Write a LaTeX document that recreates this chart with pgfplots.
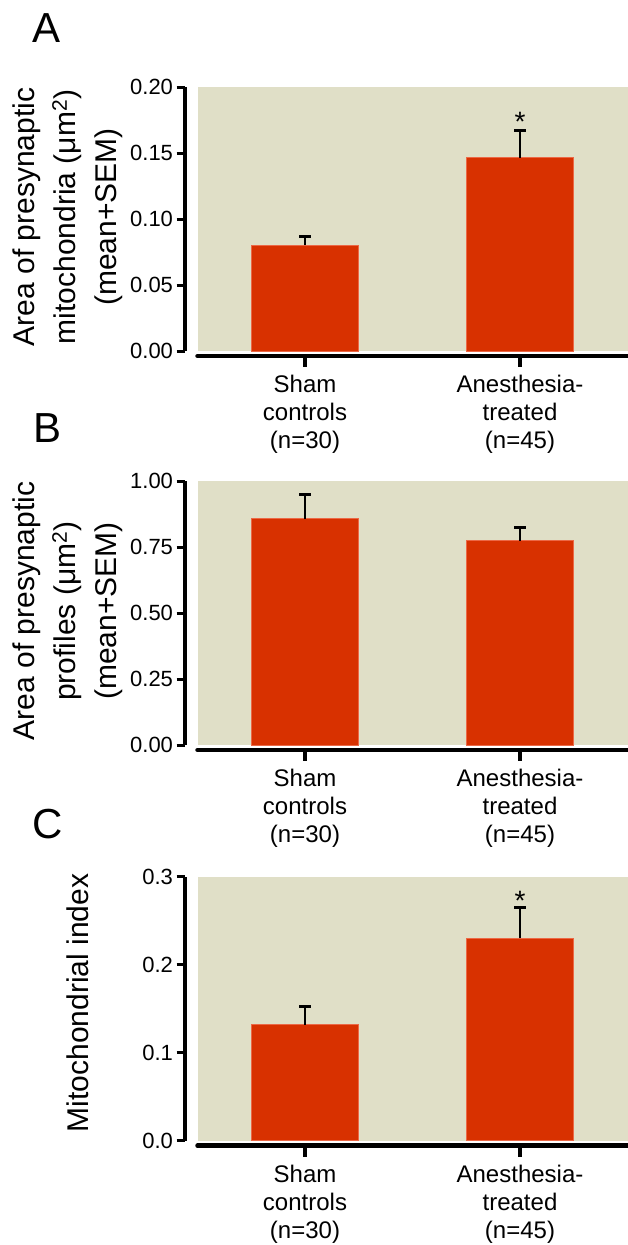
\documentclass[border=0pt]{standalone}
\usepackage{fontspec}
\setmainfont{Liberation Sans}
\usepackage{pgfplots}
\pgfplotsset{compat=1.18}
\definecolor{bgc}{RGB}{224,223,199}
\definecolor{barc}{RGB}{216,49,0}
\definecolor{bare}{RGB}{236,104,70}
\pgfplotsset{panel/.style={
  width=430bp, height=264bp, scale only axis,
  xmin=-0.5, xmax=1.5, ymin=0,
  axis background/.style={fill=bgc},
  axis x line*=bottom, axis y line*=left,
  axis x line shift=5bp, axis y line shift=13bp,
  x axis line style={-, line width=4.5bp, line cap=round},
  y axis line style={-, line width=4bp},
  tick align=outside, major tick length=8bp,
  tick style={line width=3bp, black},
  x tick style={draw=none},
  xtick={0,1},
  xticklabels={{Sham\\controls\\(n=30)},{Anesthesia-\\treated\\(n=45)}},
  xticklabel style={align=center, yshift=-8bp, font=\fontsize{24bp}{28bp}\selectfont},
  yticklabel style={font=\fontsize{22bp}{26bp}\selectfont},
  /pgf/number format/assume math mode=true,
  ybar, bar width=107bp,
  clip=false,
}}
\pgfplotsset{errs/.style={fill=barc, draw=bare, line width=0.8bp,
  error bars/.cd, y dir=plus, y explicit, error mark=-,
  error bar style={line width=2.6bp, black, solid},
  error mark options={rotate=90, line width=3bp, mark size=6bp, black}}}
\begin{document}
\begin{tikzpicture}
\path[use as bounding box] (0,0) rectangle (628bp,-1245bp);
% Panel A
\begin{axis}[panel, at={(197.5bp,-351bp)}, anchor=south west,
  ymax=0.2, ytick={0,0.05,0.1,0.15,0.2},
  yticklabel style={/pgf/number format/.cd, fixed, fixed zerofill, precision=2}]
\addplot[errs] coordinates {(0,0.0801) +- (0,0.0068) (1,0.1465) +- (0,0.0205)};
\draw[line width=3.2bp] ([yshift=-5bp]axis cs:0,0) -- ([yshift=-16bp]axis cs:0,0);
\draw[line width=3.2bp] ([yshift=-5bp]axis cs:1,0) -- ([yshift=-16bp]axis cs:1,0);
\node[anchor=base, font=\fontsize{28bp}{28bp}\selectfont] at (axis cs:1,0.166) {*};
\end{axis}
% Panel B
\begin{axis}[panel, at={(197.5bp,-745bp)}, anchor=south west,
  ymax=1.0, ytick={0,0.25,0.5,0.75,1},
  yticklabel style={/pgf/number format/.cd, fixed, fixed zerofill, precision=2}]
\addplot[errs] coordinates {(0,0.857) +- (0,0.092) (1,0.774) +- (0,0.049)};
\draw[line width=3.2bp] ([yshift=-5bp]axis cs:0,0) -- ([yshift=-16bp]axis cs:0,0);
\draw[line width=3.2bp] ([yshift=-5bp]axis cs:1,0) -- ([yshift=-16bp]axis cs:1,0);
\end{axis}
% Panel C
\begin{axis}[panel, at={(197.5bp,-1140.7bp)}, anchor=south west,
  ymax=0.3, ytick={0,0.1,0.2,0.3},
  yticklabel style={/pgf/number format/.cd, fixed, fixed zerofill, precision=1}]
\addplot[errs] coordinates {(0,0.132) +- (0,0.020) (1,0.230) +- (0,0.035)};
\draw[line width=3.2bp] ([yshift=-5bp]axis cs:0,0) -- ([yshift=-16bp]axis cs:0,0);
\draw[line width=3.2bp] ([yshift=-5bp]axis cs:1,0) -- ([yshift=-16bp]axis cs:1,0);
\node[anchor=base, font=\fontsize{28bp}{28bp}\selectfont] at (axis cs:1,0.262) {*};
\end{axis}
% panel letters
\node[font=\fontsize{42bp}{42bp}\selectfont] at (47bp,-28bp) {A};
\node[font=\fontsize{42bp}{42bp}\selectfont] at (48bp,-428bp) {B};
\node[font=\fontsize{42bp}{42bp}\selectfont] at (48bp,-824bp) {C};
% y labels
\node[rotate=90, align=center, font=\fontsize{30bp}{41bp}\selectfont] at (68bp,-217bp)
  {Area of presynaptic\\mitochondria (μm\textsuperscript{2})\\(mean+SEM)};
\node[rotate=90, align=center, font=\fontsize{30bp}{41bp}\selectfont] at (68bp,-611bp)
  {Area of presynaptic\\profiles (μm\textsuperscript{2})\\(mean+SEM)};
\node[rotate=90, font=\fontsize{30bp}{36bp}\selectfont] at (78bp,-1003bp)
  {Mitochondrial index};
\end{tikzpicture}
\end{document}
